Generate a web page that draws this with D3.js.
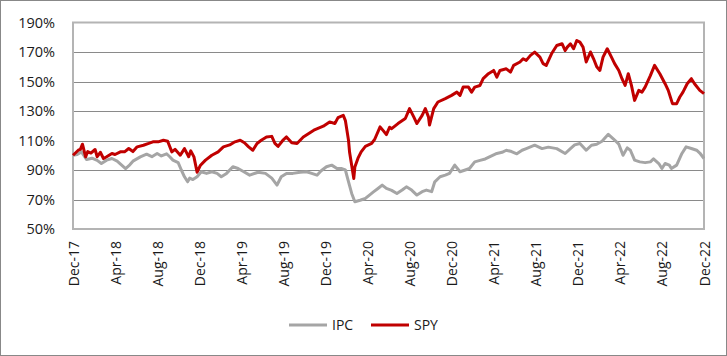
<!DOCTYPE html>
<html>
<head>
<meta charset="utf-8">
<script src="https://cdn.jsdelivr.net/npm/d3@7"></script>
<style>
  html, body { margin: 0; padding: 0; background: #fff; }
  svg { display: block; }
  text { font-family: "Open Sans", "Noto Sans", sans-serif; fill: #1a1a1a; }
</style>
</head>
<body>
<svg id="chart" width="727" height="356"></svg>
<script>
// Months since Dec-17 for each observation
const spyMonths = [0,0.5,0.7,0.9,1.2,1.4,1.7,2.1,2.3,2.6,2.9,3.2,3.7,4.0,4.5,4.9,5.3,5.7,6.1,6.7,7.2,7.6,8.1,8.6,9.0,9.4,9.7,10.2,10.6,11.0,11.2,11.5,11.8,12.1,12.6,13.2,13.8,14.3,14.9,15.4,15.9,16.3,16.7,17.1,17.5,17.9,18.4,18.9,19.2,19.5,20.0,20.3,20.8,21.3,21.9,22.9,23.8,24.4,24.9,25.2,25.7,25.9,26.2,26.3,26.7,26.8,27.1,27.4,27.8,28.1,28.4,28.7,29.2,29.5,29.8,30.1,30.3,30.9,31.6,32.0,32.4,32.7,33.2,33.5,33.8,33.9,34.3,34.7,35.4,36.0,36.5,36.8,37.1,37.6,37.9,38.2,38.7,39.0,39.5,40.0,40.3,40.6,41.2,41.6,41.9,42.5,42.8,43.1,43.5,43.9,44.4,44.7,45.0,45.5,46.0,46.5,46.8,47.0,47.3,47.6,47.9,48.2,48.5,48.8,49.2,49.5,49.8,50.1,50.4,50.8,51.2,51.5,51.9,52.2,52.5,52.8,53.1,53.4,53.8,54.1,54.4,54.9,55.3,55.8,56.3,56.6,57.0,57.4,57.7,58.0,58.4,58.8,59.1,59.6,60.0];
const spyValues = [100,103.4,104,107.5,98.9,102.5,101.5,103.9,99,102,97.8,99,101.2,100.5,102.3,102.3,104.6,102.5,105.7,106.8,108,109.1,109.1,110.2,109.5,102.3,104,100,104.5,99,103,98.9,88.5,93,96.7,100,102.3,105.7,107,109.1,110.2,108.5,105.7,103.4,108,110.2,112.4,112.8,108,106,110.5,112.4,108.5,108,112.4,117,119.7,122.6,121.5,125.5,127.1,123.5,110,102,84.3,92,98,102.3,106,107,108,111,119.2,116.7,114,119,118,121.5,124.9,131.6,126,121.5,127,131.6,126,120.5,131.6,136.1,138.4,140.6,142.8,140.6,146.2,146.2,142.8,146.2,147.3,151.9,155.3,157.5,153,157.5,158.6,156.4,160.9,163.2,165.4,164.3,167.7,169.9,166.5,162.1,160.9,168.8,174.4,175.6,171,173.3,175.6,172.2,177.8,176.7,173.3,163.2,170,165.4,160,157.5,166.5,172.2,166.5,162.1,157.5,151.9,147.4,155.3,147.4,137.2,144,142.8,146.2,154,160.9,155.3,148.5,144,135,135,139.5,142.8,148.5,151.9,148.5,144,141.8];

const ipcMonths = [0,0.4,0.8,1.3,1.8,2.3,2.7,3.2,3.7,4.2,4.6,5.0,5.4,5.7,6.4,7.0,7.5,8.0,8.4,8.9,9.2,9.5,10.0,10.3,10.6,10.9,11.1,11.4,11.8,12.2,12.7,13.2,13.7,14.1,14.6,15.2,15.7,16.2,16.8,17.6,18.3,18.9,19.4,19.8,20.3,20.9,21.6,22.2,22.7,23.2,23.6,24.1,24.6,25.1,25.5,25.9,26.2,26.5,26.8,27.3,27.8,28.1,28.6,29.0,29.4,29.8,30.3,30.8,31.3,31.7,32.2,32.7,33.2,33.6,34.1,34.4,34.9,35.4,35.8,36.3,36.8,37.3,37.7,38.2,38.7,39.2,39.6,40.3,40.8,41.2,41.7,42.2,42.7,43.1,43.9,44.6,45.2,46.0,46.8,47.3,47.7,48.2,48.8,49.3,49.8,50.3,50.9,51.4,51.9,52.3,52.7,53.0,53.4,53.9,54.4,54.9,55.2,55.7,56.0,56.3,56.7,56.9,57.4,57.9,58.3,58.8,59.3,59.6,60.0];
const ipcValues = [100,100.5,102.3,97.1,98,96.5,94.4,96.7,97.8,96,93.5,91,93.5,96,98.9,100.7,99,101.2,99.5,101,99,96.7,95,90,85.4,82,84.5,83.5,85.4,88.8,87.7,88.8,87.7,85.4,87.7,92.2,91,89,86.5,88.5,87.7,84.5,79.8,85.4,87.7,87.7,88.5,88.8,87.7,86.5,89.5,92.2,93.3,91,91,90,82,74.1,68.5,69.5,70.7,72.5,75.3,77.5,79.8,77.5,76.2,74.1,76.4,78.6,76.4,73,75.3,76.4,75.3,82,85.4,86.5,87.7,93.3,88.8,90,91,95.5,96.5,97.5,98.9,101.2,102,103.4,102.5,101,103.4,104.5,106.8,104.5,105.5,104.5,101.2,104.5,107,108,103.4,106.8,107.5,109.5,114.2,111,107.5,100,105,103.4,96.7,95.5,95,95.5,97.5,94.4,91,94.4,93.3,91,93.3,101.2,105.7,104.6,103.4,101.5,97.8];

const xTickMonths = [0,4,8,12,16,20,24,28,32,36,40,44,48,52,56,60];
const xTickLabels = ["Dec-17","Apr-18","Aug-18","Dec-18","Apr-19","Aug-19","Dec-19","Apr-20","Aug-20","Dec-20","Apr-21","Aug-21","Dec-21","Apr-22","Aug-22","Dec-22"];
const yTicks = [50,70,90,110,130,150,170,190];
const seriesNames = ["IPC","SPY"];
const seriesColors = ["#a5a5a5","#c00000"];

const W = 727, H = 356;
const plot = {left: 73, right: 704, top: 22.5, bottom: 229};

const svg = d3.select("#chart");

// outer border
svg.append("rect").attr("x",0.5).attr("y",0.5).attr("width",W-1).attr("height",H-1)
  .attr("fill","#fff").attr("stroke","#888").attr("stroke-width",1);

const x = d3.scaleLinear().domain([0,60]).range([plot.left, plot.right]);
const y = d3.scaleLinear().domain([50,190]).range([plot.bottom, plot.top]);

// gridlines
svg.append("g").selectAll("line").data(yTicks.filter(v => v>50 && v<190)).join("line")
  .attr("x1",plot.left).attr("x2",plot.right)
  .attr("y1",d=>Math.round(y(d))+0.5).attr("y2",d=>Math.round(y(d))+0.5)
  .attr("stroke","#8a8a8a").attr("stroke-width",1);

// frame
svg.append("rect").attr("x",plot.left).attr("y",plot.top)
  .attr("width",plot.right-plot.left).attr("height",plot.bottom-plot.top)
  .attr("fill","none").attr("stroke","#b4b4b4").attr("stroke-width",2);

// y axis labels
const yAxis = d3.axisLeft(y).tickValues(yTicks).tickSize(0).tickPadding(18)
  .tickFormat(d => d + "%");
const yg = svg.append("g").attr("transform",`translate(${plot.left},0)`).call(yAxis);
yg.select(".domain").remove();
yg.selectAll("text").style("font-size","14.5px").attr("fill","#1a1a1a")
  .style("font-family",'"Open Sans", sans-serif');

// x axis labels
const xAxis = d3.axisBottom(x).tickValues(xTickMonths).tickSize(0)
  .tickFormat((d,i) => xTickLabels[i]);
const xg = svg.append("g").attr("transform",`translate(0,${plot.bottom})`).call(xAxis);
xg.select(".domain").remove();
xg.selectAll("text")
  .attr("transform","rotate(-90)")
  .attr("x",-12).attr("y",0).attr("dy","0.36em")
  .attr("text-anchor","end")
  .style("font-size","14px").attr("fill","#1a1a1a")
  .style("font-family",'"Open Sans", sans-serif');

// lines
const line = d3.line().x(d=>x(d[0])).y(d=>y(d[1]));
const ipcData = ipcMonths.map((m,i)=>[m, ipcValues[i]]);
const spyData = spyMonths.map((m,i)=>[m, spyValues[i]]);
svg.append("path").datum(ipcData).attr("d",line).attr("fill","none")
  .attr("stroke",seriesColors[0]).attr("stroke-width",3).attr("stroke-linejoin","round");
svg.append("path").datum(spyData).attr("d",line).attr("fill","none")
  .attr("stroke",seriesColors[1]).attr("stroke-width",3).attr("stroke-linejoin","round");

// legend
const legend = svg.append("g").attr("transform","translate(0,325)");
const legX = [289, 371];
seriesNames.forEach((name,i)=>{
  legend.append("line").attr("x1",legX[i]).attr("x2",legX[i]+38).attr("y1",0).attr("y2",0)
    .attr("stroke",seriesColors[i]).attr("stroke-width",3);
  legend.append("text").attr("x",legX[i]+43).attr("y",0).attr("dy","0.36em")
    .style("font-size","14px").text(name);
});
</script>
</body>
</html>
